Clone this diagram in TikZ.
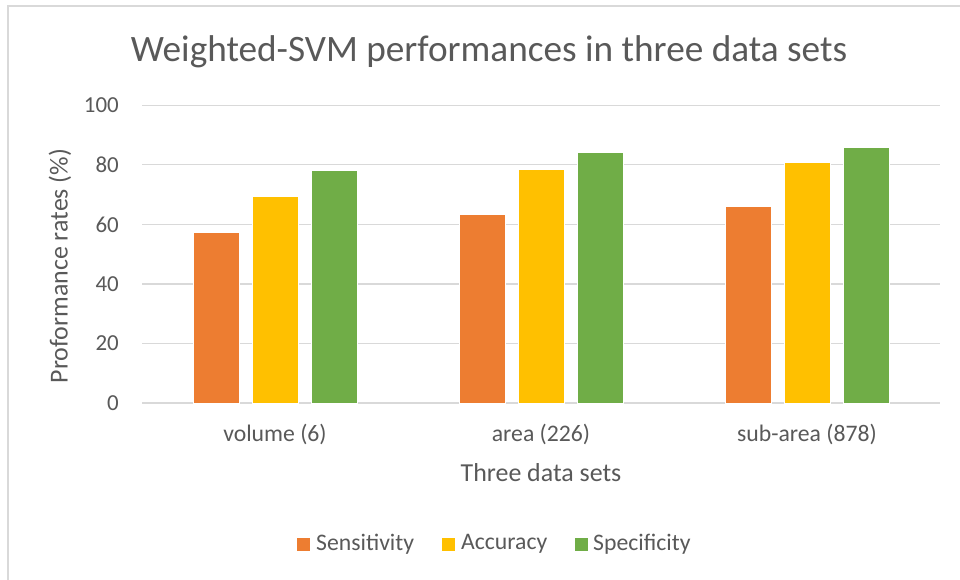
\documentclass[tikz,border=0pt]{standalone}
\usepackage{fontspec}
\setmainfont{Carlito}
\definecolor{txt}{HTML}{595959}
\definecolor{grid}{HTML}{D9D9D9}
\definecolor{sens}{HTML}{ED7D31}
\definecolor{accu}{HTML}{FFC000}
\definecolor{spec}{HTML}{70AD47}
\tikzset{
  gridline/.style={draw=grid, line width=1.3bp},
  ticklbl/.style={text=txt, font=\fontsize{23}{26}\selectfont, anchor=east, inner sep=0pt},
  catlbl/.style={text=txt, font=\fontsize{23.8}{27}\selectfont, inner sep=0pt},
  axtitle/.style={text=txt, font=\fontsize{26}{30}\selectfont, inner sep=0pt},
  leglbl/.style={text=txt, font=\fontsize{23.8}{27}\selectfont, anchor=west, inner sep=0pt},
  barS/.style={fill=sens, draw=white, line width=0.6bp},
  barA/.style={fill=accu, draw=white, line width=0.6bp},
  barP/.style={fill=spec, draw=white, line width=0.6bp},
}
\begin{document}
\begin{tikzpicture}[x=1bp,y=-1bp]
\useasboundingbox (0,0) rectangle (960,580);
\fill[white] (0,0) rectangle (960,580);
% chart border
\draw[draw=grid, line width=1.5bp] (8,590) -- (8,6) -- (970,6);
% title
\node[text=txt, font=\fontsize{37.4}{44}\selectfont, inner sep=0pt] (title) at (489,52) {Weighted-SVM performances in three data sets};
% gridlines and ticks
\foreach \v/\nm in {0/t0,20/t20,40/t40,60/t60,80/t80,100/t100}{
  \draw[gridline] (142,{403-\v*2.977}) -- (940,{403-\v*2.977});
  \node[ticklbl] (\nm) at (119,{403-\v*2.977}) {\v};
}
% bars
\foreach \xl/\v/\st in {
  193.3/57.3/barS, 252/69.5/barA, 311/78.0/barP,
  459.3/63.3/barS, 518/78.4/barA, 577/84.1/barP,
  725.3/66.1/barS, 784/81.0/barA, 843/85.9/barP}{
  \path[\st] (\xl,403) rectangle ({\xl+46},{403-\v*2.977});
}
% category labels
\node[catlbl] (c1) at (275,434) {volume (6)};
\node[catlbl] (c2) at (541,434) {area (226)};
\node[catlbl] (c3) at (807,434) {sub-area (878)};
% axis titles
\node[axtitle] (xt) at (541,473) {Three data sets};
\node[axtitle, rotate=90] (yt) at (60,266) {Proformance rates (\%)};
% legend
\fill[sens] (297,538) rectangle (310,551);
\node[leglbl] (l1) at (316,544) {Sensitivity};
\fill[accu] (442,538) rectangle (455,551);
\node[leglbl] (l2) at (461,544) {Accuracy};
\fill[spec] (575,538) rectangle (588,551);
\node[leglbl] (l3) at (593,544) {Specificity};
\end{tikzpicture}
\end{document}
